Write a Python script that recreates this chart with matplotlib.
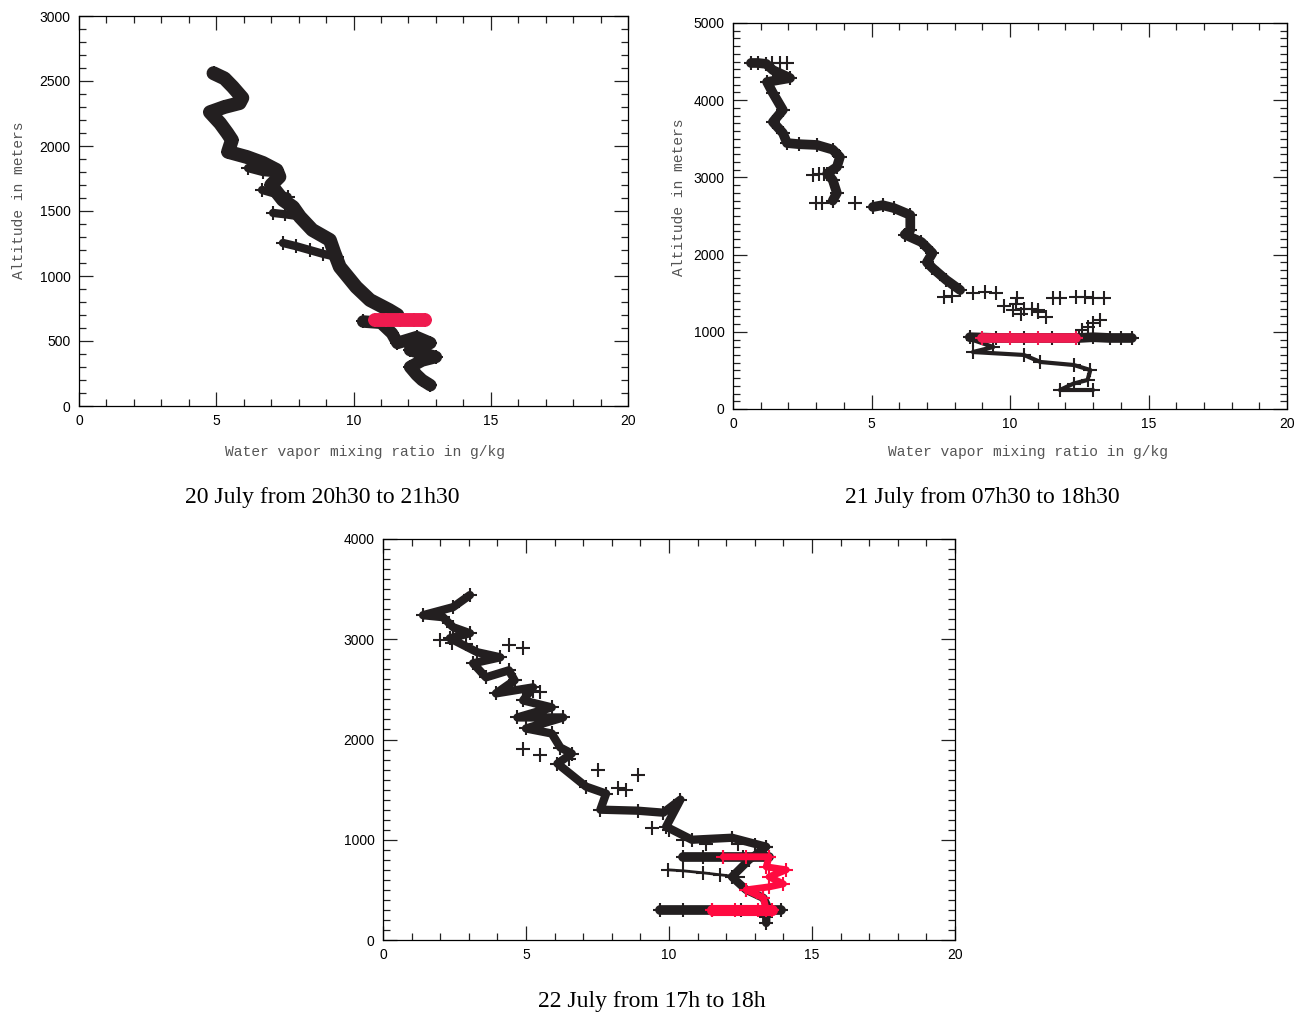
import numpy as np
import matplotlib.pyplot as plt
from matplotlib.ticker import MultipleLocator

# -----------------------------
# Data: water vapour mixing ratio (g/kg) vs altitude (m)
# -----------------------------
titles = ['20 July from 20h30 to 21h30',
          '21 July from 07h30 to 18h30',
          '22 July from 17h to 18h']
xlabel = 'Water vapor mixing ratio in g/kg'
ylabel = 'Altitude in meters'

# panel 1 : 20 July
p1_x = [4.9, 5.3, 5.6, 5.95, 5.85, 5.3, 4.77, 5.14, 5.4, 5.57, 5.43, 6.12, 6.7, 7.2,
        7.3, 7.0, 7.43, 7.8, 8.05, 8.5, 9.14, 9.3, 9.5, 10.1, 10.6, 11.3, 11.6]
p1_y = [2560, 2520, 2455, 2370, 2330, 2300, 2260, 2175, 2100, 2046, 1955, 1915, 1870, 1815,
        1763, 1700, 1585, 1530, 1455, 1354, 1277, 1180, 1070, 915, 815, 738, 700]
p1b_x = [6.16, 6.7, 7.2]          # side branches
p1b_y = [1830, 1800, 1790]
p1c_x = [6.67, 7.2, 7.6]
p1c_y = [1662, 1630, 1610]
p1d_x = [7.07, 7.5, 8.0]
p1d_y = [1485, 1475, 1460]
p1e_x = [7.43, 7.9, 8.4, 8.9, 9.4]
p1e_y = [1254, 1230, 1200, 1170, 1146]
p1f_x = [10.35, 11.0, 11.4, 11.6, 12.3, 12.8, 12.06, 13.0, 12.5, 12.06, 12.3, 12.5, 12.8]
p1f_y = [650, 640, 560, 485, 530, 485, 430, 377, 350, 300, 240, 200, 160]
p1_red_x = [10.8, 11.2, 11.7, 12.2, 12.6]
p1_red_y = [660, 660, 660, 660, 660]

# panel 2 : 21 July
p2_x = [0.65, 0.9, 1.2, 1.44, 2.06, 1.23, 1.44, 1.8, 1.44, 1.8, 1.95, 2.4, 3.03, 3.6,
        3.86, 3.75, 3.4, 3.6, 3.75, 3.6]
p2_y = [4482, 4482, 4470, 4390, 4287, 4236, 4093, 3873, 3718, 3575, 3445, 3430, 3420, 3360,
        3264, 3135, 3050, 2966, 2798, 2700]
p2s_x = [1.4, 1.7, 1.95, 2.9, 3.1, 3.3, 3.0, 3.2, 4.4]
p2s_y = [4482, 4482, 4482, 3031, 3040, 3050, 2668, 2668, 2668]
p2b_x = [5.05, 5.4, 5.8, 6.4, 6.4, 6.2, 6.8, 7.2, 7.0, 7.2, 7.7, 8.2]
p2b_y = [2617, 2640, 2604, 2513, 2318, 2260, 2163, 2020, 1900, 1826, 1671, 1541]
p2s2_x = [7.6, 7.9, 8.66, 9.1, 9.5, 10.25, 9.8, 10.2, 10.5, 11.0, 11.55, 11.8, 12.4,
          12.7, 13.0, 13.4, 10.1, 10.4, 10.8, 11.3, 11.0, 13.25, 13.0, 12.8, 12.6]
p2s2_y = [1451, 1470, 1503, 1515, 1503, 1438, 1330, 1360, 1300, 1250, 1438, 1440, 1450,
          1450, 1440, 1438, 1282, 1230, 1300, 1192, 1280, 1153, 1110, 1062, 1020]
p2c_x = [8.55, 9.5, 10.5, 11.5, 12.5, 13.0, 13.6, 14.0, 14.4]
p2c_y = [930, 920, 920, 920, 920, 930, 920, 920, 920]
p2d_x = [8.66, 9.4, 8.66, 10.5, 11.1, 12.3, 12.9, 12.8, 12.3, 11.8, 13.0]
p2d_y = [894, 803, 738, 700, 609, 570, 505, 376, 330, 246, 246]
p2_red_x = [9.0, 10.0, 11.0, 12.4]
p2_red_y = [920, 920, 920, 920]

# panel 3 : 22 July
p3_x = [3.04, 2.45, 1.4, 2.1, 2.45, 3.04, 2.34, 3.3, 4.1, 3.15, 3.6, 4.4, 4.6, 3.95, 5.25,
        4.9, 5.9, 4.7, 6.3, 5.0, 5.9, 6.2, 6.6, 6.1, 7.1, 7.8, 7.6, 8.9, 9.8, 10.4, 9.9,
        10.8, 12.2, 13.4, 12.8, 12.2, 12.7, 13.3, 13.5, 13.4, 13.4]
p3_y = [3441, 3320, 3240, 3220, 3120, 3060, 3010, 2870, 2820, 2760, 2620, 2690, 2590, 2460,
        2520, 2390, 2320, 2220, 2220, 2110, 2060, 1920, 1860, 1760, 1530, 1460, 1300, 1290,
        1270, 1400, 1130, 1000, 1020, 930, 800, 630, 500, 420, 300, 230, 170]
p3s_x = [2.0, 2.4, 2.9, 4.9, 4.4, 5.25, 5.5, 4.9, 5.5, 6.5, 7.5, 8.9, 8.2, 8.5, 9.4,
         10.0, 10.5, 11.3, 12.4, 13.0, 13.4]
p3s_y = [2990, 2960, 2950, 2910, 2940, 2480, 2470, 1910, 1850, 1810, 1700, 1650, 1520,
         1500, 1120, 1100, 1000, 960, 960, 950, 930]
p3h_x = [10.5, 11.2, 11.9, 12.6, 13.5]
p3h_y = [830, 830, 830, 830, 830]
p3m_x = [9.96, 10.5, 11.2, 11.8, 12.4]
p3m_y = [700, 690, 670, 650, 630]
p3l_x = [9.7, 10.5, 11.5, 12.5, 13.9]
p3l_y = [300, 300, 300, 300, 300]
p3_red_x = [11.9, 12.7, 13.5, 13.4, 14.1, 13.5, 14.0, 13.5, 12.7, 13.3, 13.4]
p3_red_y = [830, 830, 830, 730, 700, 630, 560, 530, 500, 420, 300]
p3_red2_x = [11.5, 12.3, 13.1, 13.6]
p3_red2_y = [300, 300, 300, 300]

BLACK = '#231f20'
RED = '#ef1b4f'
RED3 = '#ff0a40'


def dense(ax, x, y, color=BLACK, lw=6):
    ax.plot(x, y, color=color, lw=lw, marker='+', ms=10, mew=1.5,
            solid_capstyle='round', solid_joinstyle='round')


def sparse(ax, x, y, color=BLACK):
    ax.plot(x, y, ls='none', color=color, marker='+', ms=10, mew=1.5)


def style(ax, ymax, ystep):
    ax.set_xlim(0, 20)
    ax.set_ylim(0, ymax)
    ax.xaxis.set_major_locator(MultipleLocator(5))
    ax.xaxis.set_minor_locator(MultipleLocator(1))
    ax.yaxis.set_major_locator(MultipleLocator(ystep))
    ax.yaxis.set_minor_locator(MultipleLocator(100))
    ax.tick_params(which='both', direction='in', top=True, right=True,
                   labelsize=10, width=0.9, color='#222222')
    ax.tick_params(which='major', length=10, pad=6)
    ax.tick_params(which='minor', length=5)
    for lbl in ax.get_xticklabels() + ax.get_yticklabels():
        lbl.set_family('Liberation Sans')
    for s in ax.spines.values():
        s.set_linewidth(0.9)


fig = plt.figure(figsize=(12.97, 10.13), dpi=100)
W, H = 1297, 1013


def px_axes(l, t, r, b):
    return fig.add_axes([l / W, 1 - b / H, (r - l) / W, (b - t) / H])


ax1 = px_axes(79, 16, 628, 406)
dense(ax1, p1_x, p1_y, lw=10)
for bx, by in [(p1b_x, p1b_y), (p1c_x, p1c_y), (p1d_x, p1d_y), (p1e_x, p1e_y)]:
    dense(ax1, bx, by, lw=6)
dense(ax1, p1f_x, p1f_y, lw=9)
dense(ax1, p1_red_x, p1_red_y, color=RED, lw=10)
style(ax1, 3000, 500)

ax2 = px_axes(733, 23, 1287, 409)
dense(ax2, p2_x, p2_y, lw=7)
sparse(ax2, p2s_x, p2s_y)
dense(ax2, p2b_x, p2b_y, lw=7)
sparse(ax2, p2s2_x, p2s2_y)
dense(ax2, p2c_x, p2c_y, lw=7)
dense(ax2, p2d_x, p2d_y, lw=3)
dense(ax2, p2_red_x, p2_red_y, color=RED, lw=7)
style(ax2, 5000, 1000)

ax3 = px_axes(383, 539, 955, 940)
dense(ax3, p3_x, p3_y, lw=6)
sparse(ax3, p3s_x, p3s_y)
dense(ax3, p3h_x, p3h_y, lw=7)
dense(ax3, p3m_x, p3m_y, lw=2)
dense(ax3, p3l_x, p3l_y, lw=7)
dense(ax3, p3_red_x, p3_red_y, color=RED3, lw=5)
dense(ax3, p3_red2_x, p3_red2_y, color=RED3, lw=8)
style(ax3, 4000, 1000)

# axis labels (Courier-like, grey) and serif captions
lab = dict(family='Liberation Mono', size=10.5, color='#555555')
fig.text(365 / W, 1 - 452 / H, xlabel, ha='center', va='center', **lab)
fig.text(1028 / W, 1 - 452 / H, xlabel, ha='center', va='center', **lab)
fig.text(19 / W, 1 - 200 / H, ylabel, ha='center', va='center', rotation=90, **lab)
fig.text(679 / W, 1 - 197 / H, ylabel, ha='center', va='center', rotation=90, **lab)

cap = dict(family='Liberation Serif', size=17, color='black')
fig.text(322 / W, 1 - 498 / H, titles[0], ha='center', va='center', **cap)
fig.text(982 / W, 1 - 498 / H, titles[1], ha='center', va='center', **cap)
fig.text(652 / W, 1 - 1001 / H, titles[2], ha='center', va='center', **cap)

plt.savefig('out.png', dpi=100)
